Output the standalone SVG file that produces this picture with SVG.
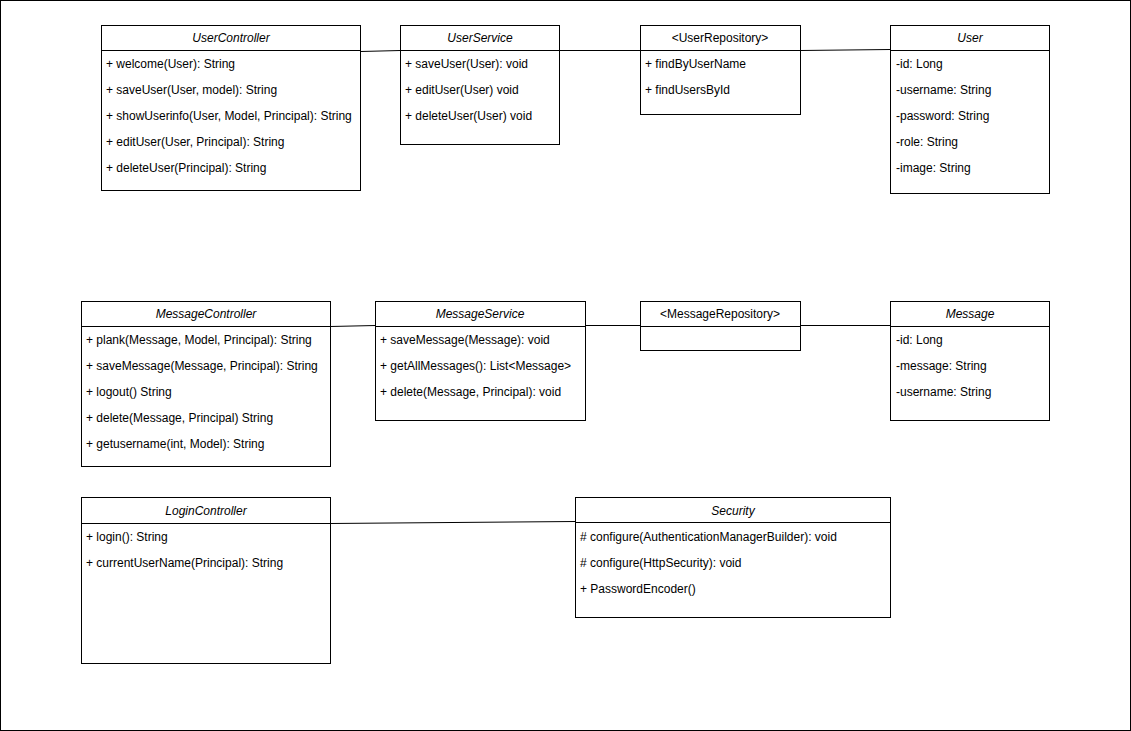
<svg xmlns="http://www.w3.org/2000/svg" width="1131" height="731" viewBox="0 0 1131 731">
  <style>
    .box { fill: #ffffff; stroke: #000000; stroke-width: 1; }
    .sep { stroke: #000000; stroke-width: 1; }
    .title { font-family: "Liberation Sans", Arial, sans-serif; font-size: 12px; font-style: italic; text-anchor: middle; fill: #000000; }
    .stereo { font-family: "Liberation Sans", Arial, sans-serif; font-size: 12px; text-anchor: middle; fill: #000000; }
    .member { font-family: "Liberation Sans", Arial, sans-serif; font-size: 12px; fill: #000000; }
    .link { fill: none; stroke: #000000; stroke-width: 1; }
  </style>

  <!-- canvas frame -->
  <rect x="0.5" y="0.5" width="1130" height="730" fill="#ffffff" stroke="#000000" stroke-width="1"/>

  <!-- associations -->
  <g id="connectors">
    <path class="link" d="M360.5,51.5 L400.5,50.5"/>
    <path class="link" d="M559.5,50.5 L640.5,50.5"/>
    <path class="link" d="M800.5,50.5 L890.5,49.5"/>
    <path class="link" d="M330.5,326.5 L375.5,325.5"/>
    <path class="link" d="M585.5,325.5 L640.5,325.5"/>
    <path class="link" d="M800.5,325.5 L890.5,325.5"/>
    <path class="link" d="M330.5,523.5 L575.5,521.5"/>
  </g>

  <g id="UserController">
    <rect class="box" x="101.5" y="25.5" width="259" height="165"/>
    <line class="sep" x1="101.5" y1="50.5" x2="360.5" y2="50.5"/>
    <text class="title" x="231" y="42">UserController</text>
    <text class="member" x="106" y="68">+ welcome(User): String</text>
    <text class="member" x="106" y="94">+ saveUser(User, model): String</text>
    <text class="member" x="106" y="120">+ showUserinfo(User, Model, Principal): String</text>
    <text class="member" x="106" y="146">+ editUser(User, Principal): String</text>
    <text class="member" x="106" y="172">+ deleteUser(Principal): String</text>
  </g>

  <g id="UserService">
    <rect class="box" x="400.5" y="25.5" width="159" height="119"/>
    <line class="sep" x1="400.5" y1="50.5" x2="559.5" y2="50.5"/>
    <text class="title" x="480" y="42">UserService</text>
    <text class="member" x="405" y="68">+ saveUser(User): void</text>
    <text class="member" x="405" y="94">+ editUser(User) void</text>
    <text class="member" x="405" y="120">+ deleteUser(User) void</text>
  </g>

  <g id="UserRepository">
    <rect class="box" x="640.5" y="25.5" width="160" height="89"/>
    <line class="sep" x1="640.5" y1="50.5" x2="800.5" y2="50.5"/>
    <text class="stereo" x="720" y="42">&lt;UserRepository&gt;</text>
    <text class="member" x="645" y="68">+ findByUserName</text>
    <text class="member" x="645" y="94">+ findUsersById</text>
  </g>

  <g id="User">
    <rect class="box" x="890.5" y="25.5" width="159" height="168"/>
    <line class="sep" x1="890.5" y1="50.5" x2="1049.5" y2="50.5"/>
    <text class="title" x="970" y="42">User</text>
    <text class="member" x="896" y="68">-id: Long</text>
    <text class="member" x="896" y="94">-username: String</text>
    <text class="member" x="896" y="120">-password: String</text>
    <text class="member" x="896" y="146">-role: String</text>
    <text class="member" x="896" y="172">-image: String</text>
  </g>

  <g id="MessageController">
    <rect class="box" x="81.5" y="301.5" width="249" height="165"/>
    <line class="sep" x1="81.5" y1="326.5" x2="330.5" y2="326.5"/>
    <text class="title" x="206" y="318">MessageController</text>
    <text class="member" x="86" y="344">+ plank(Message, Model, Principal): String</text>
    <text class="member" x="86" y="370">+ saveMessage(Message, Principal): String</text>
    <text class="member" x="86" y="396">+ logout() String</text>
    <text class="member" x="86" y="422">+ delete(Message, Principal) String</text>
    <text class="member" x="86" y="448">+ getusername(int, Model): String</text>
  </g>

  <g id="MessageService">
    <rect class="box" x="375.5" y="301.5" width="210" height="119"/>
    <line class="sep" x1="375.5" y1="326.5" x2="585.5" y2="326.5"/>
    <text class="title" x="480" y="318">MessageService</text>
    <text class="member" x="380" y="344">+ saveMessage(Message): void</text>
    <text class="member" x="380" y="370">+ getAllMessages(): List&lt;Message&gt;</text>
    <text class="member" x="380" y="396">+ delete(Message, Principal): void</text>
  </g>

  <g id="MessageRepository">
    <rect class="box" x="640.5" y="301.5" width="160" height="49"/>
    <line class="sep" x1="640.5" y1="326.5" x2="800.5" y2="326.5"/>
    <text class="stereo" x="720" y="318">&lt;MessageRepository&gt;</text>
  </g>

  <g id="Message">
    <rect class="box" x="890.5" y="301.5" width="159" height="119"/>
    <line class="sep" x1="890.5" y1="326.5" x2="1049.5" y2="326.5"/>
    <text class="title" x="970" y="318">Message</text>
    <text class="member" x="896" y="344">-id: Long</text>
    <text class="member" x="896" y="370">-message: String</text>
    <text class="member" x="896" y="396">-username: String</text>
  </g>

  <g id="LoginController">
    <rect class="box" x="81.5" y="497.5" width="249" height="166"/>
    <line class="sep" x1="81.5" y1="523.5" x2="330.5" y2="523.5"/>
    <text class="title" x="206" y="515">LoginController</text>
    <text class="member" x="86" y="541">+ login(): String</text>
    <text class="member" x="86" y="567">+ currentUserName(Principal): String</text>
  </g>

  <g id="Security">
    <rect class="box" x="575.5" y="497.5" width="315" height="120"/>
    <line class="sep" x1="575.5" y1="522.5" x2="890.5" y2="522.5"/>
    <text class="title" x="733" y="515">Security</text>
    <text class="member" x="580" y="541"># configure(AuthenticationManagerBuilder): void</text>
    <text class="member" x="580" y="567"># configure(HttpSecurity): void</text>
    <text class="member" x="580" y="593">+ PasswordEncoder()</text>
  </g>
</svg>
